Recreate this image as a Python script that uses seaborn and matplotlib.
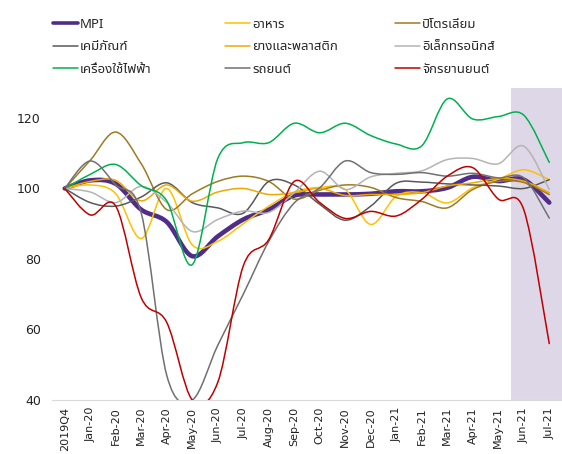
import numpy as np
import pandas as pd
import matplotlib
matplotlib.use("Agg")
import matplotlib.pyplot as plt
import seaborn as sns
from matplotlib.path import Path
from matplotlib.patches import PathPatch
from matplotlib.lines import Line2D
from matplotlib import font_manager as fm
from matplotlib.ft2font import FT2Font

# ---------------- data ----------------
labels = ['2019Q4', 'Jan-20', 'Feb-20', 'Mar-20', 'Apr-20', 'May-20', 'Jun-20', 'Jul-20',
          'Aug-20', 'Sep-20', 'Oct-20', 'Nov-20', 'Dec-20', 'Jan-21', 'Feb-21', 'Mar-21',
          'Apr-21', 'May-21', 'Jun-21', 'Jul-21']

mpi         = [100, 102.3, 101.3, 94.0, 90.5, 80.8, 86.4, 91.2, 94.0, 98.0, 98.3, 98.3,
               98.5, 99.2, 99.2, 100.2, 103.3, 102.1, 102.5, 96.0]
food        = [100, 101.0, 98.5, 85.8, 100.0, 84.0, 85.0, 90.0, 95.0, 99.0, 100.3, 99.7,
               89.8, 97.8, 98.8, 95.9, 100.2, 102.6, 105.3, 102.5]
petroleum   = [100, 108.0, 116.0, 107.0, 94.0, 98.5, 102.0, 103.5, 102.0, 97.0, 99.5, 101.0,
               100.3, 97.4, 96.3, 94.5, 99.7, 102.0, 101.7, 98.3]
chemicals   = [100, 96.0, 95.0, 97.6, 101.6, 96.0, 94.5, 93.0, 102.0, 101.0, 95.5, 91.0,
               95.0, 101.5, 101.8, 101.3, 101.0, 100.7, 100.0, 102.5]
rubber      = [100, 102.0, 102.3, 96.5, 101.0, 96.4, 99.0, 100.0, 98.3, 98.8, 100.0, 98.0,
               98.3, 98.3, 98.8, 100.7, 101.6, 102.8, 102.1, 98.8]
electronics = [100, 99.0, 96.0, 100.6, 96.0, 87.8, 91.2, 93.6, 93.2, 98.8, 104.9, 99.7,
               103.3, 104.3, 105.0, 108.2, 108.5, 107.0, 112.0, 99.7]
electrical  = [100, 104.0, 106.8, 100.8, 96.5, 78.4, 108.5, 113.0, 113.0, 118.5, 115.8, 118.5,
               115.0, 112.6, 112.1, 125.4, 119.7, 120.4, 120.8, 107.4]
auto        = [100, 107.8, 101.0, 93.0, 47.0, 40.0, 55.5, 70.0, 85.0, 95.9, 100.2, 107.8,
               104.5, 104.0, 104.5, 103.5, 104.3, 103.0, 103.0, 91.6]
motorcycle  = [100, 92.5, 95.0, 69.0, 62.0, 40.0, 45.0, 78.0, 85.5, 102.0, 96.0, 91.5,
               93.5, 92.2, 96.9, 103.5, 105.9, 97.0, 94.0, 56.0]

series_names = ['MPI', 'อาหาร', 'ปิโตรเลียม', 'เคมีภัณฑ์', 'ยางและพลาสติก',
                'อิเล็กทรอนิกส์', 'เครื่องใช้ไฟฟ้า', 'รถยนต์', 'จักรยานยนต์']
series_values = [mpi, food, petroleum, chemicals, rubber, electronics, electrical, auto, motorcycle]
colors = ['#512D8A', '#FFC000', '#9E7A22', '#595959', '#F0A800',
          '#B4B4B4', '#00B050', '#707070', '#C00000']
widths = [3.3, 1.1, 1.1, 1.1, 1.1, 1.1, 1.1, 1.1, 1.1]

# ---------------- fonts ----------------
sns.set_theme(style="white")


def find_thai_font():
    names = []
    for f in fm.fontManager.ttflist:
        try:
            cm = FT2Font(f.fname).get_charmap()
        except Exception:
            continue
        if 0x0E01 in cm and 0x0E40 in cm and 0x0E4C in cm:
            names.append(f.name)
    prefer = ['Tahoma', 'Leelawadee UI', 'Noto Sans Thai', 'Noto Sans Thai UI', 'Loma',
              'Garuda', 'Sarabun', 'DejaVu Sans', 'Noto Sans']
    for p in prefer:
        if p in names:
            return p
    return names[0] if names else 'DejaVu Sans'


thai_font = find_thai_font()
plt.rcParams['font.family'] = [thai_font, 'DejaVu Sans']

# ---------------- figure ----------------
W, H = 562, 454
fig = plt.figure(figsize=(W / 100, H / 100), dpi=100)
ax = fig.add_axes([52 / W, 54 / H, 510 / W, 312 / H])

df = pd.DataFrame({name: vals for name, vals in zip(series_names, series_values)})
df['pos'] = np.arange(len(labels))
long = df.melt(id_vars='pos', var_name='series', value_name='value')
# seaborn sets up the categorical scale; curves are drawn smoothed below
sns.lineplot(data=long, x='pos', y='value', hue='series', palette=dict(zip(series_names, colors)),
             linewidth=0, legend=False, ax=ax)

ax.axvspan(17.5, 19.5, color='#DDD7E8', zorder=0, lw=0)


def smooth_path(xs, ys):
    pts = np.column_stack([xs, ys]).astype(float)
    n = len(pts)
    verts = [pts[0]]
    codes = [Path.MOVETO]
    for i in range(n - 1):
        p0 = pts[i - 1] if i > 0 else pts[i]
        p1 = pts[i]
        p2 = pts[i + 1]
        p3 = pts[i + 2] if i + 2 < n else pts[i + 1]
        c1 = p1 + (p2 - p0) / 6.0
        c2 = p2 - (p3 - p1) / 6.0
        verts += [c1, c2, p2]
        codes += [Path.CURVE4] * 3
    return Path(verts, codes)


x = np.arange(len(labels))
for k, (name, vals, c, lw) in enumerate(zip(series_names, series_values, colors, widths)):
    patch = PathPatch(smooth_path(x, vals), facecolor='none', edgecolor=c, lw=lw,
                      capstyle='round', joinstyle='round', zorder=2 + k)
    ax.add_patch(patch)

ax.set_xlim(-0.5, 19.5)
ax.set_ylim(40, 128.5)
ax.set_yticks([40, 60, 80, 100, 120])
ax.set_xticks(x)
ax.set_xticklabels(labels, rotation=90, fontsize=8, color='#222222', family='DejaVu Sans')
ax.set_xticks(np.arange(-0.5, 19.6, 1), minor=True)
ax.tick_params(axis='x', which='major', length=0, pad=5)
ax.tick_params(axis='x', which='minor', length=5, color='#D9D9D9', width=0.8, direction='out')
ax.tick_params(axis='y', length=0, pad=8, labelsize=9, labelcolor='#222222')
for lbl in ax.get_yticklabels():
    lbl.set_family('DejaVu Sans')
ax.set_xlabel('')
ax.set_ylabel('')
for s in ['top', 'right', 'left']:
    ax.spines[s].set_visible(False)
ax.spines['bottom'].set_color('#D9D9D9')
ax.spines['bottom'].set_linewidth(0.8)
ax.grid(False)

# ---------------- legend (3 columns, row-wise order) ----------------
cols = [[0, 3, 6], [1, 4, 7], [2, 5, 8]]
col_x = [53, 225, 395]
for cx, idxs in zip(col_x, cols):
    handles = [Line2D([0], [0], color=colors[i], lw=(2.6 if i == 0 else 1.1)) for i in idxs]
    labs = [series_names[i] for i in idxs]
    fig.legend(handles, labs, loc='upper left', bbox_to_anchor=(cx / W, 1 - 18 / H),
               frameon=False, borderpad=0, borderaxespad=0, handlelength=1.9,
               handletextpad=0.15, labelspacing=0.72,
               prop={'family': [thai_font, 'DejaVu Sans'], 'size': 9.5})

fig.savefig('out.png', dpi=100, facecolor='white')
